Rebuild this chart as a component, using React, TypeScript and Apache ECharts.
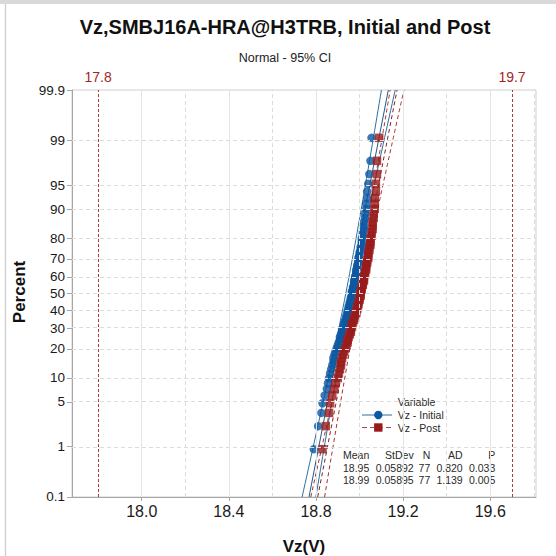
import React, { useEffect, useRef } from "react";
import * as echarts from "echarts";

const chartTitle = "Vz,SMBJ16A-HRA@H3TRB, Initial and Post";
const chartSubtitle = "Normal - 95% CI";
const xAxisName = "Vz(V)";
const yAxisName = "Percent";
const legendTitle = "Variable";
const seriesNames = ["Vz - Initial", "Vz - Post"];

const initialValues = [
  18.79, 18.81, 18.825, 18.83, 18.84, 18.85, 18.855, 18.86, 18.865, 18.87,
  18.875, 18.88, 18.88, 18.885, 18.89, 18.895, 18.9, 18.905, 18.91, 18.91,
  18.915, 18.92, 18.92, 18.925, 18.93, 18.93, 18.935, 18.94, 18.94, 18.945,
  18.945, 18.95, 18.95, 18.955, 18.955, 18.96, 18.96, 18.965, 18.965, 18.965,
  18.97, 18.97, 18.975, 18.975, 18.975, 18.98, 18.98, 18.985, 18.985, 18.985,
  18.99, 18.99, 18.995, 18.995, 18.995, 19.0, 19.0, 19.005, 19.005, 19.01,
  19.01, 19.01, 19.015, 19.015, 19.02, 19.02, 19.02, 19.025, 19.025, 19.03,
  19.03, 19.035, 19.035, 19.04, 19.045, 19.05, 19.055,
];
const postValues = [
  18.83, 18.845, 18.86, 18.865, 18.875, 18.885, 18.89, 18.9, 18.905, 18.91,
  18.915, 18.915, 18.92, 18.925, 18.93, 18.935, 18.94, 18.945, 18.945, 18.95,
  18.955, 18.96, 18.96, 18.965, 18.965, 18.97, 18.975, 18.975, 18.98, 18.985,
  18.985, 18.99, 18.99, 18.995, 18.995, 19.0, 19.0, 19.005, 19.005, 19.005,
  19.01, 19.01, 19.015, 19.015, 19.02, 19.02, 19.02, 19.025, 19.025, 19.03,
  19.03, 19.03, 19.035, 19.035, 19.04, 19.04, 19.04, 19.045, 19.045, 19.05,
  19.05, 19.05, 19.055, 19.055, 19.06, 19.06, 19.06, 19.065, 19.065, 19.07,
  19.07, 19.07, 19.075, 19.075, 19.08, 19.08, 19.09,
];

const means = [18.95, 18.99];
const stdevs = [0.05892, 0.05895];
const counts = [77, 77];
const adValues = ["0.820", "1.139"];
const pValues = ["0.033", "0.005"];
const tableHeaders = ["Mean", "StDev", "N", "AD", "P"];

const percentTicks = [0.1, 1, 5, 10, 20, 30, 40, 50, 60, 70, 80, 90, 95, 99, 99.9];
const xMajorTicks = [18.0, 18.4, 18.8, 19.2, 19.6];
const xMinorTicks = [18.2, 18.6, 19.0, 19.4, 19.8];
const specLimits = [17.8, 19.7];
const xRange = [17.68, 19.81];

// inverse standard normal CDF (probability scale transform)
function probit(p: number): number {
  const a = [-39.69683028665376, 220.9460984245205, -275.9285104469687, 138.357751867269, -30.66479806614716, 2.506628277459239];
  const b = [-54.47609879822406, 161.5858368580409, -155.6989798598866, 66.80131188771972, -13.28068155288572];
  const c = [-0.007784894002430293, -0.3223964580411365, -2.400758277161838, -2.549732539343734, 4.374664141464968, 2.938163982698783];
  const d = [0.007784695709041462, 0.3224671290700398, 2.445134137142996, 3.754408661907416];
  const pl = 0.02425;
  if (p < pl) {
    const q = Math.sqrt(-2 * Math.log(p));
    return (((((c[0] * q + c[1]) * q + c[2]) * q + c[3]) * q + c[4]) * q + c[5]) / ((((d[0] * q + d[1]) * q + d[2]) * q + d[3]) * q + 1);
  }
  if (p <= 1 - pl) {
    const q = p - 0.5;
    const r = q * q;
    return ((((((a[0] * r + a[1]) * r + a[2]) * r + a[3]) * r + a[4]) * r + a[5]) * q) / (((((b[0] * r + b[1]) * r + b[2]) * r + b[3]) * r + b[4]) * r + 1);
  }
  const q = Math.sqrt(-2 * Math.log(1 - p));
  return -(((((c[0] * q + c[1]) * q + c[2]) * q + c[3]) * q + c[4]) * q + c[5]) / ((((d[0] * q + d[1]) * q + d[2]) * q + d[3]) * q + 1);
}

const BLUE_MARK = "#0b58a3";
const BLUE_LINE = "#2e6f9f";
const RED_MARK = "#981b1b";
const RED_LINE = "#a23333";
const SPEC_COLOR = "#a32626";
const FONT = "'Liberation Sans', Arial, sans-serif";

export default function App() {
  const ref = useRef<HTMLDivElement>(null);

  useEffect(() => {
    if (!ref.current) return;
    const chart = echarts.init(ref.current, undefined, { renderer: "svg" });

    const zMin = probit(0.001);
    const zMax = -zMin;
    const zTicks = percentTicks.map((p) => probit(p / 100));
    const labelFor = (v: number) => {
      let best = 0;
      zTicks.forEach((z, i) => {
        if (Math.abs(z - v) < Math.abs(zTicks[best] - v)) best = i;
      });
      return String(percentTicks[best]);
    };

    const toPoints = (vals: number[]) => {
      const n = vals.length;
      return vals.map((v, i) => [v, probit((i + 1 - 0.3) / (n + 0.4))]);
    };

    const zGrid: number[] = [];
    for (let k = 0; k <= 60; k++) zGrid.push(zMin + ((zMax - zMin) * k) / 60);
    const fitLines = (idx: number) => {
      const m = means[idx];
      const s = stdevs[idx];
      const n = counts[idx];
      const fit = [zMin, zMax].map((z) => [m + z * s, z]);
      const hw = (z: number) => 1.96 * s * Math.sqrt(1 / n + (z * z) / (2 * n));
      const lower = zGrid.map((z) => [m + z * s - hw(z), z]);
      const upper = zGrid.map((z) => [m + z * s + hw(z), z]);
      return { fit, lower, upper };
    };
    const f0 = fitLines(0);
    const f1 = fitLines(1);

    const lineSeries = (data: number[][], color: string, dashed: boolean) => ({
      type: "line",
      data,
      showSymbol: false,
      symbol: "none",
      silent: true,
      z: 2,
      lineStyle: { color, width: 1, type: dashed ? [4, 3] : "solid" },
    });

    const gridMarks: any[] = [];
    zTicks.forEach((z, i) => {
      if (i === 0 || i === zTicks.length - 1) return;
      gridMarks.push({ yAxis: z, lineStyle: { color: "#dcdcdc", type: [4, 3], width: 1 } });
    });
    xMajorTicks.forEach((x) => gridMarks.push({ xAxis: x, lineStyle: { color: "#e4e4e4", type: "solid", width: 1 } }));
    xMinorTicks.forEach((x) => gridMarks.push({ xAxis: x, lineStyle: { color: "#dcdcdc", type: [4, 3], width: 1 } }));

    const tableRight = [369.3, 413.7, 430.3, 462.7, 495.3];
    const tableRows = [0, 1].map((i) => [
      means[i].toFixed(2),
      stdevs[i].toFixed(5),
      String(counts[i]),
      adValues[i],
      pValues[i],
    ]);
    const tableTexts: any[] = [];
    const rowY = [455, 467.5, 480];
    [tableHeaders, ...tableRows].forEach((row, r) => {
      row.forEach((txt, c) => {
        tableTexts.push({
          type: "text",
          x: tableRight[c],
          y: rowY[r],
          style: { text: txt, fill: "#2a2a2a", font: `10.5px ${FONT}`, textAlign: "right", textVerticalAlign: "middle" },
        });
      });
    });

    chart.setOption({
      animation: false,
      backgroundColor: "#ffffff",
      grid: {
        left: 72,
        top: 90,
        right: 20,
        bottom: 59,
        show: true,
        borderColor: "#cfcfcf",
        borderWidth: 1,
        containLabel: false,
      },
      xAxis: {
        type: "value",
        min: xRange[0],
        max: xRange[1],
        axisLine: { show: true, onZero: false, lineStyle: { color: "#a6a6a6", width: 1 } },
        axisTick: { show: true, customValues: xMajorTicks, length: 4, lineStyle: { color: "#a6a6a6" } },
        axisLabel: {
          customValues: xMajorTicks,
          formatter: (v: number) => v.toFixed(1),
          fontSize: 16,
          fontFamily: FONT,
          color: "#1a1a1a",
          margin: 6,
        },
        splitLine: { show: false },
      },
      yAxis: {
        type: "value",
        min: zMin - 1e-6,
        max: zMax + 1e-6,
        axisLine: { show: true, onZero: false, lineStyle: { color: "#a6a6a6", width: 1 } },
        axisTick: { show: true, customValues: zTicks, length: 5, lineStyle: { color: "#a6a6a6" } },
        axisLabel: {
          customValues: zTicks,
          showMaxLabel: true,
          showMinLabel: true,
          formatter: (v: number) => labelFor(v),
          fontSize: 13.5,
          fontFamily: FONT,
          color: "#1a1a1a",
          margin: 7,
        },
        splitLine: { show: false },
      },
      series: [
        {
          type: "line",
          data: [],
          silent: true,
          z: 1,
          markLine: {
            silent: true,
            symbol: ["none", "none"],
            label: { show: false },
            animation: false,
            data: gridMarks,
          },
        },
        {
          type: "line",
          data: [],
          silent: true,
          z: 1,
          markLine: {
            silent: true,
            symbol: ["none", "none"],
            animation: false,
            label: {
              show: true,
              position: "end",
              distance: 6,
              color: SPEC_COLOR,
              fontSize: 14,
              fontFamily: FONT,
              formatter: (p: any) => String(p.value),
            },
            lineStyle: { color: "#b03a3a", type: [3, 2], width: 1 },
            data: specLimits.map((x) => ({ xAxis: x })),
          },
        },
        lineSeries(f0.lower, BLUE_LINE, false),
        lineSeries(f0.upper, BLUE_LINE, false),
        lineSeries(f0.fit, "#1f5a88", false),
        lineSeries(f1.lower, RED_LINE, true),
        lineSeries(f1.upper, RED_LINE, true),
        lineSeries(f1.fit, "#8a2020", true),
        {
          name: seriesNames[0],
          type: "scatter",
          symbol: "circle",
          symbolSize: 8.5,
          z: 3,
          itemStyle: { color: BLUE_MARK },
          data: toPoints(initialValues),
        },
        {
          name: seriesNames[1],
          type: "scatter",
          symbol: "rect",
          symbolSize: 8.5,
          z: 4,
          itemStyle: { color: RED_MARK },
          data: toPoints(postValues),
        },
      ],
      graphic: [
        { type: "rect", shape: { x: 0, y: 0, width: 556, height: 4 }, style: { fill: "#d9d9d9" }, silent: true },
        { type: "line", shape: { x1: 5.5, y1: 4, x2: 5.5, y2: 556 }, style: { stroke: "#d2d2d2", lineWidth: 1.5 }, silent: true },
        {
          type: "text",
          x: 285,
          y: 27,
          style: { text: chartTitle, fill: "#111", font: `bold 20px ${FONT}`, textAlign: "center", textVerticalAlign: "middle" },
        },
        {
          type: "text",
          x: 285,
          y: 58,
          style: { text: chartSubtitle, fill: "#222", font: `12.5px ${FONT}`, textAlign: "center", textVerticalAlign: "middle" },
        },
        {
          type: "text",
          x: 19,
          y: 292,
          rotation: Math.PI / 2,
          style: { text: yAxisName, fill: "#111", font: `bold 17px ${FONT}`, textAlign: "center", textVerticalAlign: "middle" },
        },
        {
          type: "text",
          x: 304,
          y: 546,
          style: { text: xAxisName, fill: "#111", font: `bold 17px ${FONT}`, textAlign: "center", textVerticalAlign: "middle" },
        },
        {
          type: "text",
          x: 397.7,
          y: 401.7,
          style: { text: legendTitle, fill: "#2a2a2a", font: `10.5px ${FONT}`, textAlign: "left", textVerticalAlign: "middle" },
        },
        { type: "line", shape: { x1: 362, y1: 415, x2: 392, y2: 415 }, style: { stroke: BLUE_LINE, lineWidth: 1 } },
        { type: "circle", shape: { cx: 378.3, cy: 415, r: 4.2 }, style: { fill: BLUE_MARK } },
        {
          type: "text",
          x: 397.7,
          y: 415,
          style: { text: seriesNames[0], fill: "#2a2a2a", font: `10.5px ${FONT}`, textAlign: "left", textVerticalAlign: "middle" },
        },
        { type: "line", shape: { x1: 362, y1: 427.5, x2: 392, y2: 427.5 }, style: { stroke: "#a84c4c", lineWidth: 1, lineDash: [5, 3] } },
        { type: "rect", shape: { x: 374.1, y: 423.3, width: 8.4, height: 8.4 }, style: { fill: RED_MARK } },
        {
          type: "text",
          x: 397.7,
          y: 427.5,
          style: { text: seriesNames[1], fill: "#2a2a2a", font: `10.5px ${FONT}`, textAlign: "left", textVerticalAlign: "middle" },
        },
        ...tableTexts,
      ],
    });

    return () => chart.dispose();
  }, []);

  return <div ref={ref} style={{ position: "absolute", left: 0, top: 0, width: 556, height: 556 }} />;
}
